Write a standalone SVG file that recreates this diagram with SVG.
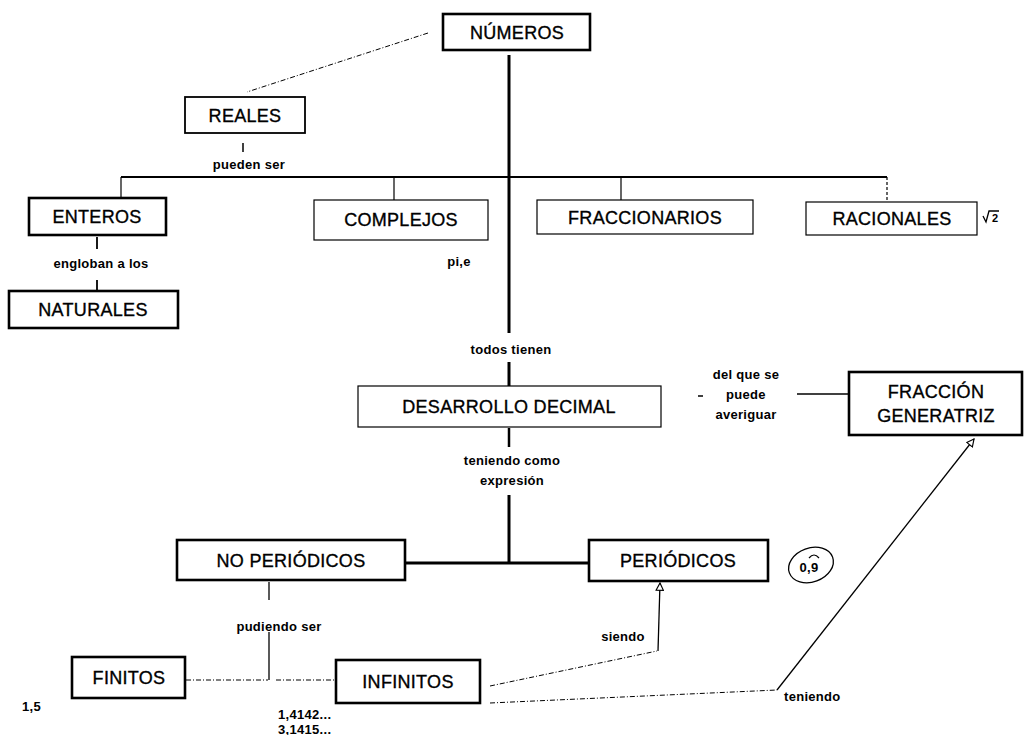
<svg xmlns="http://www.w3.org/2000/svg" width="1028" height="735" viewBox="0 0 1028 735">
<style>
  .box { fill: #fff; stroke: #000; }
  .heavy { stroke-width: 2.6; }
  .med { stroke-width: 1.8; }
  .light { stroke-width: 1.2; }
  .nt { font-family: "Liberation Sans", Arial, sans-serif; font-size: 18px; fill: #000; stroke: #000; stroke-width: 0.35; text-anchor: middle; letter-spacing: 0.3px; }
  .lb { font-family: "Liberation Sans", Arial, sans-serif; font-size: 13px; font-weight: bold; fill: #000; text-anchor: middle; letter-spacing: 0.3px; }
  .ln { fill: none; stroke: #000; }
  .dash { stroke-dasharray: 5 2 1 2; stroke-width: 1; }
</style>
<defs>
  <marker id="open" viewBox="0 0 10 10" refX="9" refY="5" markerWidth="9" markerHeight="9" orient="auto" markerUnits="userSpaceOnUse">
    <path d="M1,1 L9,5 L1,9 Z" fill="#fff" stroke="#000" stroke-width="1.3"/>
  </marker>
</defs>
<rect width="1028" height="735" fill="#fff"/>

<g id="connectors">
  <line class="ln dash" x1="428" y1="33" x2="247" y2="92"/>
  <line class="ln" x1="509" y1="55" x2="509" y2="333" stroke-width="3"/>
  <line class="ln" x1="509" y1="362" x2="509" y2="386" stroke-width="3"/>
  <line class="ln" x1="243" y1="143" x2="243" y2="152" stroke-width="1.5"/>
  <line class="ln" x1="121" y1="177" x2="887" y2="177" stroke-width="2.2"/>
  <line class="ln" x1="121" y1="177" x2="121" y2="198" stroke-width="1.2"/>
  <line class="ln" x1="394" y1="177" x2="394" y2="200" stroke-width="1.2"/>
  <line class="ln" x1="621" y1="177" x2="621" y2="200" stroke-width="1.2"/>
  <line class="ln" x1="887" y1="177" x2="887" y2="202" stroke-width="1.2" stroke-dasharray="3 2"/>
  <line class="ln" x1="97" y1="237" x2="97" y2="249" stroke-width="1.8"/>
  <line class="ln" x1="97" y1="280" x2="97" y2="291" stroke-width="1.8"/>
  <line class="ln" x1="509" y1="428" x2="509" y2="447" stroke-width="2.5"/>
  <line class="ln" x1="509" y1="495" x2="509" y2="563" stroke-width="3"/>
  <line class="ln" x1="405" y1="563" x2="589" y2="563" stroke-width="3"/>
  <line class="ln" x1="269" y1="582" x2="269" y2="600" stroke-width="1.3"/>
  <line class="ln" x1="269" y1="632" x2="269" y2="680" stroke-width="1.3"/>
  <line class="ln dash" x1="186" y1="680" x2="268" y2="680"/>
  <line class="ln dash" x1="276" y1="680" x2="335" y2="680"/>
  <polyline class="ln dash" points="490,686 657,651"/>
  <line class="ln" x1="658" y1="651" x2="660" y2="583" stroke-width="1.3" marker-end="url(#open)"/>
  <polyline class="ln dash" points="490,703 777,690"/>
  <line class="ln" x1="777" y1="690" x2="974" y2="439" stroke-width="1.3" marker-end="url(#open)"/>
  <line class="ln" x1="797" y1="394" x2="849" y2="394" stroke-width="1.5"/>
  <line class="ln" x1="698" y1="396" x2="703" y2="396" stroke-width="1.5"/>
</g>

<g id="labels">
  <text class="lb" x="249" y="169">pueden ser</text>
  <text class="lb" x="101" y="268">engloban a los</text>
  <text class="lb" x="459" y="266">pi,e</text>
  <text class="lb" x="511" y="354">todos tienen</text>
  <text class="lb" x="512" y="465">teniendo como</text>
  <text class="lb" x="512" y="485">expresión</text>
  <text class="lb" x="279" y="631">pudiendo ser</text>
  <text class="lb" x="623" y="641">siendo</text>
  <text class="lb" x="784" y="701" style="text-anchor:start">teniendo</text>
  <text class="lb" x="746" y="379">del que se</text>
  <text class="lb" x="746" y="399">puede</text>
  <text class="lb" x="746" y="419">averiguar</text>
  <text class="lb" x="22" y="711" style="text-anchor:start">1,5</text>
  <text class="lb" x="278" y="719" style="text-anchor:start">1,4142...</text>
  <text class="lb" x="278" y="734" style="text-anchor:start">3,1415...</text>
  <g id="sqrt2">
    <text class="lb" x="992" y="222" style="text-anchor:start;font-size:11px">2</text>
    <polyline class="ln" points="983,216 986,222 989,211 999,211" stroke-width="1.3"/>
  </g>
  <g id="ex09">
    <ellipse cx="811" cy="565" rx="23" ry="17" transform="rotate(-20 811 565)" fill="none" stroke="#000" stroke-width="1.3"/>
    <text class="lb" x="809" y="572" style="font-size:13px">0,9</text>
    <path d="M809,558 Q814,552 819,558" fill="none" stroke="#000" stroke-width="1.2"/>
  </g>
</g>

<g id="n-numeros"><rect class="box heavy" x="443" y="14" width="147" height="36"/><text class="nt" x="517" y="39">NÚMEROS</text></g>
<g id="n-reales"><rect class="box med" x="185" y="97" width="120" height="36"/><text class="nt" x="245" y="122">REALES</text></g>
<g id="n-enteros"><rect class="box heavy" x="29" y="198" width="137" height="37"/><text class="nt" x="97" y="223">ENTEROS</text></g>
<g id="n-naturales"><rect class="box heavy" x="9" y="291" width="169" height="37"/><text class="nt" x="93" y="316">NATURALES</text></g>
<g id="n-complejos"><rect class="box light" x="314" y="200" width="174" height="40"/><text class="nt" x="401" y="226">COMPLEJOS</text></g>
<g id="n-fraccionarios"><rect class="box light" x="537" y="200" width="216" height="34"/><text class="nt" x="645" y="224">FRACCIONARIOS</text></g>
<g id="n-racionales"><rect class="box light" x="806" y="202" width="171" height="33"/><text class="nt" x="892" y="225">RACIONALES</text></g>
<g id="n-desarrollo"><rect class="box light" x="358" y="386" width="303" height="41"/><text class="nt" x="509" y="413">DESARROLLO DECIMAL</text></g>
<g id="n-fraccion"><rect class="box heavy" x="849" y="372" width="173" height="63"/><text class="nt" x="936" y="398">FRACCIÓN</text><text class="nt" x="936" y="422">GENERATRIZ</text></g>
<g id="n-noperiodicos"><rect class="box heavy" x="177" y="540" width="228" height="40"/><text class="nt" x="291" y="567">NO PERIÓDICOS</text></g>
<g id="n-periodicos"><rect class="box heavy" x="589" y="540" width="179" height="41"/><text class="nt" x="678" y="567">PERIÓDICOS</text></g>
<g id="n-finitos"><rect class="box heavy" x="72" y="657" width="113" height="41"/><text class="nt" x="129" y="684">FINITOS</text></g>
<g id="n-infinitos"><rect class="box heavy" x="336" y="660" width="144" height="43"/><text class="nt" x="408" y="688">INFINITOS</text></g>
</svg>
